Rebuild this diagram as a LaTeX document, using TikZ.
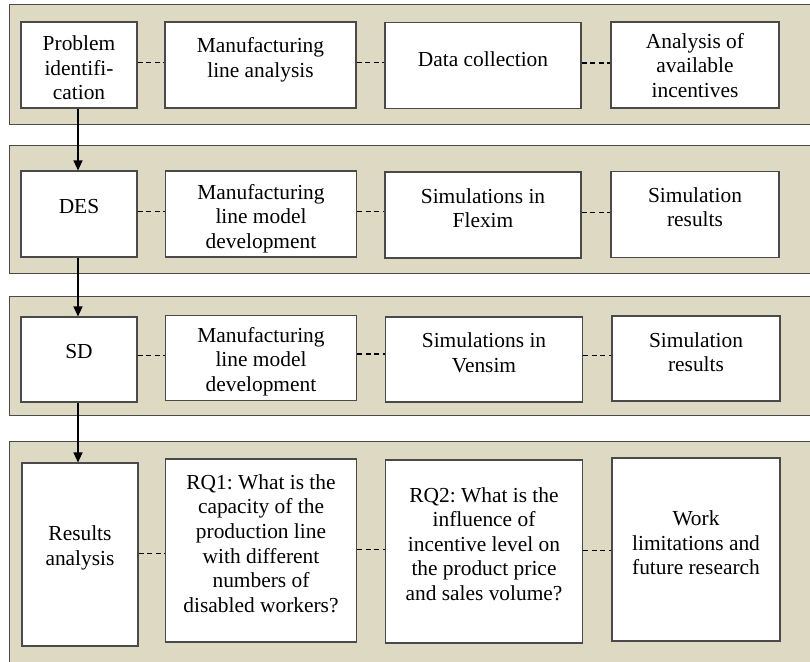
\documentclass[tikz,border=0pt]{standalone}
\usepackage{fontspec}
\setmainfont{Liberation Serif}
\usetikzlibrary{arrows.meta}
\frenchspacing
\definecolor{bandfill}{HTML}{DDD9C3}
\definecolor{edge}{HTML}{4A4A4A}
\tikzset{
  band/.style={fill=bandfill,draw=edge,line width=1pt},
  stepbox/.style={draw=edge,fill=white,line width=1.1pt,inner sep=0pt,rectangle},
  txt/.style={align=center,inner sep=0pt,font=\fontsize{21.4}{24.6}\selectfont},
  dashlink/.style={draw=black,line width=1.5pt,dash pattern=on 5pt off 3.5pt},
  flow/.style={draw=black,line width=1.1pt,-{Triangle[length=10pt,width=9pt]}}
}
\begin{document}
\begin{tikzpicture}[x=1pt,y=-1pt]
\useasboundingbox (0,0) rectangle (810,661);
% bands
\path[band] (9,5) rectangle (815,124);
\path[band] (9,145) rectangle (815,273);
\path[band] (9,296) rectangle (815,415);
\path[band] (9,441) rectangle (815,670);
% row 1
\node[stepbox,minimum width=116pt,minimum height=86pt] (a1) at (79,65) {};
\node[stepbox,minimum width=191pt,minimum height=86pt] (a2) at (260.5,65) {};
\node[stepbox,minimum width=196pt,minimum height=86pt] (a3) at (483,65.5) {};
\node[stepbox,minimum width=168pt,minimum height=86pt] (a4) at (695,65) {};
\node[txt] (ta1) at (79,68) {Problem\\identifi-\\cation};
\node[txt] (ta2) at (260.5,59.5) {Manufacturing\\line analysis};
\node[txt] (ta3) at (483,59) {Data collection};
\node[txt] (ta4) at (695,65.5) {Analysis of\\available\\incentives};
% row 2
\node[stepbox,minimum width=116pt,minimum height=86pt] (b1) at (79,214) {};
\node[stepbox,minimum width=191pt,minimum height=86pt] (b2) at (261,214) {};
\node[stepbox,minimum width=196pt,minimum height=86pt] (b3) at (483,215) {};
\node[stepbox,minimum width=168pt,minimum height=86pt] (b4) at (695,214.5) {};
\node[txt] (tb1) at (79,207) {DES};
\node[txt] (tb2) at (261,218.5) {Manufacturing\\line model\\development};
\node[txt] (tb3) at (483,208) {Simulations in\\Flexim};
\node[txt] (tb4) at (695,207) {Simulation\\results};
% row 3
\node[stepbox,minimum width=116pt,minimum height=85pt] (c1) at (79,359.5) {};
\node[stepbox,minimum width=191pt,minimum height=85pt] (c2) at (261,358) {};
\node[stepbox,minimum width=197pt,minimum height=85pt] (c3) at (484,359.5) {};
\node[stepbox,minimum width=168pt,minimum height=85pt] (c4) at (696,358.5) {};
\node[txt] (tc1) at (79,352) {SD};
\node[txt] (tc2) at (261,361.5) {Manufacturing\\line model\\development};
\node[txt] (tc3) at (484,353) {Simulations in\\Vensim};
\node[txt] (tc4) at (696,352) {Simulation\\results};
% row 4
\node[stepbox,minimum width=116pt,minimum height=183pt] (d1) at (80,554.5) {};
\node[stepbox,minimum width=191pt,minimum height=183pt] (d2) at (261,550.5) {};
\node[stepbox,minimum width=197pt,minimum height=183pt] (d3) at (484,551.5) {};
\node[stepbox,minimum width=168pt,minimum height=183pt] (d4) at (696,549.5) {};
\node[txt] (td1) at (80,548) {Results\\analysis};
\node[txt] (td2) at (261,543.5) {RQ1: What is the\\capacity of the\\production line\\with different\\numbers of\\disabled workers?};
\node[txt] (td3) at (484,544) {RQ2: What is the\\influence of\\incentive level on\\the product price\\and sales volume?};
\node[txt] (td4) at (696,543) {Work\\limitations and\\future research};
% dashed links
\foreach \r/\dy in {a/2.5,b/2.5,c/4,d/1}{
  \draw[dashlink] ([yshift=\dy pt]\r1.east) -- ([yshift=\dy pt]\r1.east -| \r2.west);
  \draw[dashlink] ([yshift=\dy pt]\r2.east) -- ([yshift=\dy pt]\r2.east -| \r3.west);
  \draw[dashlink] ([yshift=\dy pt]\r3.east) -- ([yshift=\dy pt]\r3.east -| \r4.west);
}
% arrows
\draw[flow] ([xshift=-1pt]a1.south) -- ([xshift=-1pt]a1.south |- b1.north);
\draw[flow] ([xshift=-1pt]b1.south) -- ([xshift=-1pt]b1.south |- c1.north);
\draw[flow] ([xshift=-1pt]c1.south) -- ([xshift=-1pt]c1.south |- d1.north);
\end{tikzpicture}
\end{document}
